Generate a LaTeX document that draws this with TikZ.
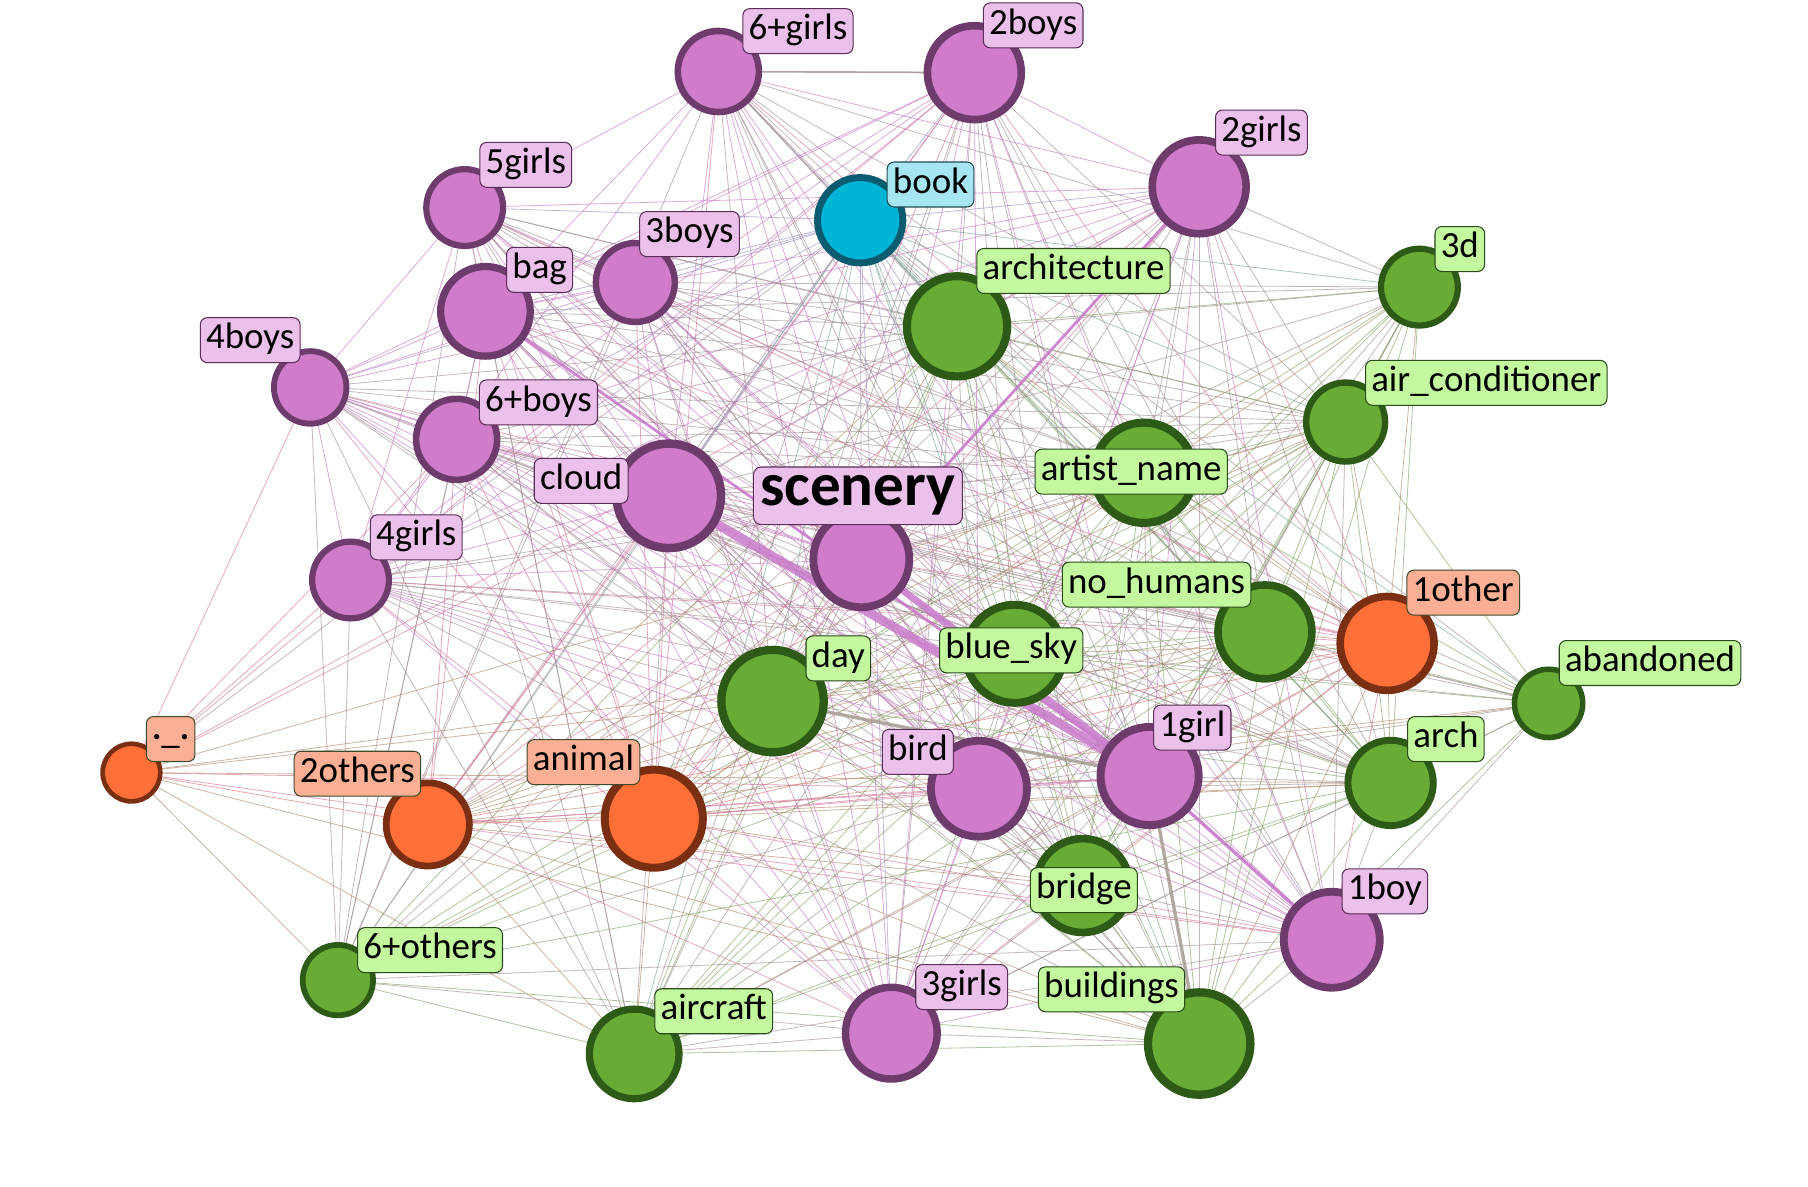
\documentclass[tikz,border=0pt]{standalone}
\usepackage{fontspec}
\setmainfont{Carlito}
\usetikzlibrary{calc}
\definecolor{nP}{HTML}{D07CCB}\definecolor{bP}{HTML}{6E3C6C}\definecolor{lP}{HTML}{EBC0EA}\definecolor{dP}{HTML}{5A2E58}
\definecolor{nG}{HTML}{68AC35}\definecolor{bG}{HTML}{2E5A17}\definecolor{lG}{HTML}{C3F89E}\definecolor{dG}{HTML}{2A4A1C}
\definecolor{nO}{HTML}{FF7038}\definecolor{bO}{HTML}{7A2E12}\definecolor{lO}{HTML}{FBB095}\definecolor{dO}{HTML}{3E4A2A}
\definecolor{nC}{HTML}{00B4D6}\definecolor{bC}{HTML}{0B5C70}\definecolor{lC}{HTML}{A6E6F2}\definecolor{dC}{HTML}{1E4A50}
\definecolor{eP}{HTML}{C777C3}\definecolor{eG}{HTML}{7FA363}\definecolor{eO}{HTML}{E46F6F}\definecolor{eC}{HTML}{6FA4C8}
\definecolor{hlP}{HTML}{C97BCB}\definecolor{hlGr}{HTML}{A8A095}
\tikzset{
  edge/.style={line width=0.7pt, opacity=0.62},
  hledge/.style={draw=hlP, opacity=0.85},
  grayedge/.style={draw=hlGr, opacity=0.85},
  lab/.style={rounded corners=6pt, fill=l#1, draw=d#1, line width=0.9pt, inner xsep=5pt, inner ysep=4pt,
    text height=23pt, text depth=8pt, font=\fontsize{32}{37}\selectfont},
  bigl/.style={rounded corners=7pt, fill=lP, draw=dP, line width=0.9pt, inner xsep=6pt, inner ysep=5pt,
    text height=28pt, text depth=12pt, font=\fontsize{53}{60}\selectfont\bfseries}
}
\def\X{{0,623,845,403,746,1040,551,421,830,1231,269,396,1167,580,992,747,304,1097,1203,1343,880,670,114,371,567,849,997,1206,939,1155,293,773,1040,550}}
\def\Y{{0,62,63,180,191,162,245,270,283,249,336,381,366,430,410,485,503,548,558,610,567,608,670,715,710,684,673,679,768,815,850,896,905,914}}
\def\R{{0,38,44,36,40,44,37,42,47,36,34,38,37,49,47,45,36,44,44,32,46,48,27,39,46,45,46,40,44,45,33,43,48,42}}
\def\T{{"X","P","P","P","C","P","P","P","G","G","P","P","G","P","G","P","P","G","O","G","G","G","O","O","O","P","P","G","G","P","G","P","G","G"}}
\begin{document}
\begin{tikzpicture}[x=1pt,y=-1pt]
\useasboundingbox (0,0) rectangle (1568,1029);
\fill[white] (0,0) rectangle (1568,1029);
% centres
\foreach \i in {1,...,33}{
  \pgfmathsetmacro\xx{\X[\i]}\pgfmathsetmacro\yy{\Y[\i]}
  \coordinate (c\i) at (\xx,\yy);
}
% thin edges
\pgfmathsetseed{12345}
\foreach \i in {1,...,32}{
  \pgfmathtruncatemacro\ii{\i+1}
  \foreach \j in {\ii,...,33}{
    \pgfmathsetmacro\ri{\R[\i]}\pgfmathsetmacro\rj{\R[\j]}
    \pgfmathsetmacro\pp{(\ri+\rj-52)/40+0.18}
    \pgfmathsetmacro\uu{rnd}
    \pgfmathtruncatemacro\ok{\uu<\pp ? 1 : 0}
    \ifnum\ok=1
      \pgfmathparse{\T[\i]}\let\ta\pgfmathresult
      \pgfmathparse{\T[\j]}\let\tb\pgfmathresult
      \draw[edge, draw=e\ta!50!e\tb] (c\i) -- (c\j);
    \fi
  }
}
% strong edges
\draw[hledge, line width=8pt] (c13) -- (c26);
\draw[hledge, line width=6pt] (c15) -- (c26);
\draw[hledge, line width=2.5pt] (c7) -- (c26);
\draw[hledge, line width=3pt] (c26) -- (c29);
\draw[hledge, line width=2.5pt] (c5) -- (c15);
\draw[grayedge, line width=3pt] (c21) -- (c26);
\draw[grayedge, line width=3pt] (c26) -- (c32);
\draw[grayedge, line width=1.5pt] (c1) -- (c2);
% nodes
\foreach \i in {1,...,33}{
  \pgfmathsetmacro\xx{\X[\i]}\pgfmathsetmacro\yy{\Y[\i]}\pgfmathsetmacro\rr{\R[\i]}
  \pgfmathparse{\T[\i]}\let\ty\pgfmathresult
  \pgfmathsetmacro\lw{0.15*\rr}
  \pgfmathsetmacro\ds{2*\rr-\lw}
  \node[circle, inner sep=0pt, minimum size=\ds pt, fill=n\ty, draw=b\ty, line width=\lw pt] (n\i) at (\xx,\yy) {};
}
% labels
\node[lab=P] (l1) at (692,27) {6+girls};
\node[lab=P] (l2) at (896,22) {2boys};
\node[lab=P] (l3) at (456,143) {5girls};
\node[lab=C] (l4) at (807,160) {book};
\node[lab=P] (l5) at (1094,115) {2girls};
\node[lab=P] (l6) at (598,203) {3boys};
\node[lab=P] (l7) at (468,234) {bag};
\node[lab=G] (l8) at (931,235) {architecture};
\node[lab=G] (l9) at (1266,216) {3d};
\node[lab=P] (l10) at (217,295) {4boys};
\node[lab=P] (l11) at (467,349) {6+boys};
\node[lab=G] (l12) at (1289,332) {air\_conditioner};
\node[lab=P] (l13) at (504,417) {cloud};
\node[lab=G] (l14) at (981,409) {artist\_name};
\node[lab=P] (l16) at (361,466) {4girls};
\node[lab=G] (l17) at (1003,507) {no\_humans};
\node[lab=O] (l18) at (1269,514) {1other};
\node[lab=G] (l19) at (1431,575) {abandoned};
\node[lab=G] (l20) at (877,564) {blue\_sky};
\node[lab=G] (l21) at (727,571) {day};
\node[lab=O] (l22) at (148,641) {·\raisebox{0.12em}{\_}·};
\node[lab=O] (l23) at (310,671) {2others};
\node[lab=O] (l24) at (506,661) {animal};
\node[lab=P] (l25) at (796,652) {bird};
\node[lab=P] (l26) at (1034,631) {1girl};
\node[lab=G] (l27) at (1254,641) {arch};
\node[lab=G] (l28) at (940,772) {bridge};
\node[lab=P] (l29) at (1201,773) {1boy};
\node[lab=G] (l30) at (373,824) {6+others};
\node[lab=P] (l31) at (834,856) {3girls};
\node[lab=G] (l32) at (964,858) {buildings};
\node[lab=G] (l33) at (619,877) {aircraft};
\node[bigl] (l15) at (744,430) {scenery};
\end{tikzpicture}
\end{document}
